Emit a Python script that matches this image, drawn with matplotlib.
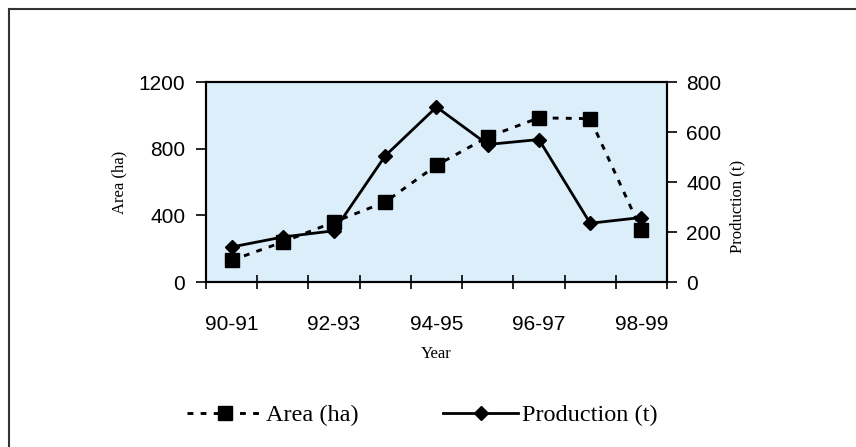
import matplotlib
matplotlib.use("Agg")
import matplotlib.pyplot as plt
from matplotlib.lines import Line2D
import numpy as np

years = ["90-91", "91-92", "92-93", "93-94", "94-95", "95-96", "96-97", "97-98", "98-99"]
tick_labels = ["90-91", "92-93", "94-95", "96-97", "98-99"]
area_ha = [130, 240, 360, 480, 700, 870, 985, 980, 310]
production_t = [140, 180, 205, 505, 700, 550, 570, 235, 258]

W, H = 856, 447
fig = plt.figure(figsize=(W / 100, H / 100), dpi=100)
fig.patch.set_facecolor("white")

# outer frame (top and left edges visible)
fig.add_artist(Line2D([9 / W, 9 / W], [0, 1 - 9 / H], transform=fig.transFigure,
                      color="#333333", lw=1.5))
fig.add_artist(Line2D([9 / W, 1], [1 - 9 / H, 1 - 9 / H], transform=fig.transFigure,
                      color="#333333", lw=1.5))

left, right, top, bottom = 206, 667, 82, 282
ax = fig.add_axes([left / W, 1 - bottom / H, (right - left) / W, (bottom - top) / H])
ax.set_facecolor("#DCEEFA")
ax2 = ax.twinx()

x = np.arange(len(years)) + 0.5
area_ls = (0, (2.0, 2.5))

ax.plot(x, area_ha, linestyle=area_ls, color="black", lw=2.1,
        marker="s", markersize=9.5, markerfacecolor="black", zorder=3)
ax2.plot(x, production_t, linestyle="-", color="black", lw=2.0,
         marker="D", markersize=7.5, markerfacecolor="black", zorder=3)

ax.set_xlim(0, len(years))
ax.set_ylim(0, 1200)
ax2.set_ylim(0, 800)
ax.set_yticks([0, 400, 800, 1200])
ax2.set_yticks([0, 200, 400, 600, 800])

ax.set_xticks(np.arange(0, len(years) + 1))
ax.set_xticklabels([])
ax.set_xticks([0.5, 2.5, 4.5, 6.5, 8.5], minor=True)
ax.set_xticklabels(tick_labels, minor=True)
ax.tick_params(axis="x", which="major", direction="inout", length=10, width=1.2)
ax.tick_params(axis="x", which="minor", length=0, pad=24)

sans = ["Liberation Sans", "DejaVu Sans"]
for lab in ax.get_xticklabels(minor=True) + ax.get_yticklabels() + ax2.get_yticklabels():
    lab.set_fontfamily(sans)
    lab.set_fontsize(15)

ax.tick_params(axis="y", direction="out", length=7, width=1.2, pad=8)
ax2.tick_params(axis="y", direction="out", length=7, width=1.2, pad=7)

for sp in list(ax.spines.values()) + list(ax2.spines.values()):
    sp.set_linewidth(1.5)
    sp.set_color("black")

serif = ["Liberation Serif", "DejaVu Serif"]
ax.set_ylabel("Area (ha)", fontfamily=serif, fontsize=12)
ax.yaxis.set_label_coords((119 - left) / (right - left), 0.5)
ax.yaxis.label.set_horizontalalignment("center")
ax.yaxis.label.set_verticalalignment("center")

ax2.set_ylabel("Production (t)", fontfamily=serif, fontsize=12)
ax2.yaxis.set_label_coords((737 - left) / (right - left), (bottom - 206) / (bottom - top))
ax2.yaxis.label.set_horizontalalignment("center")
ax2.yaxis.label.set_verticalalignment("center")

ax.set_xlabel("Year", fontfamily=serif, fontsize=12)
ax.xaxis.set_label_coords(0.5, -(354 - bottom) / (bottom - top))
ax.xaxis.label.set_verticalalignment("center")

legend_fs = 17.5
h_area = Line2D([], [], linestyle=area_ls, color="black", lw=2.1, marker="s",
                markersize=9.5, label="Area (ha)")
h_prod = Line2D([], [], linestyle="-", color="black", lw=2.0, marker="D",
                markersize=7.5, label="Production (t)")
common = dict(loc="center left", frameon=False, borderpad=0, borderaxespad=0,
              handlelength=3.1, handletextpad=0.15,
              prop=dict(family=serif, size=legend_fs))
fig.legend(handles=[h_area], bbox_to_anchor=(187 / W, 1 - 415 / H), **common)
fig.legend(handles=[h_prod], bbox_to_anchor=(443 / W, 1 - 415 / H), **common)

fig.savefig("out.png", dpi=100)
